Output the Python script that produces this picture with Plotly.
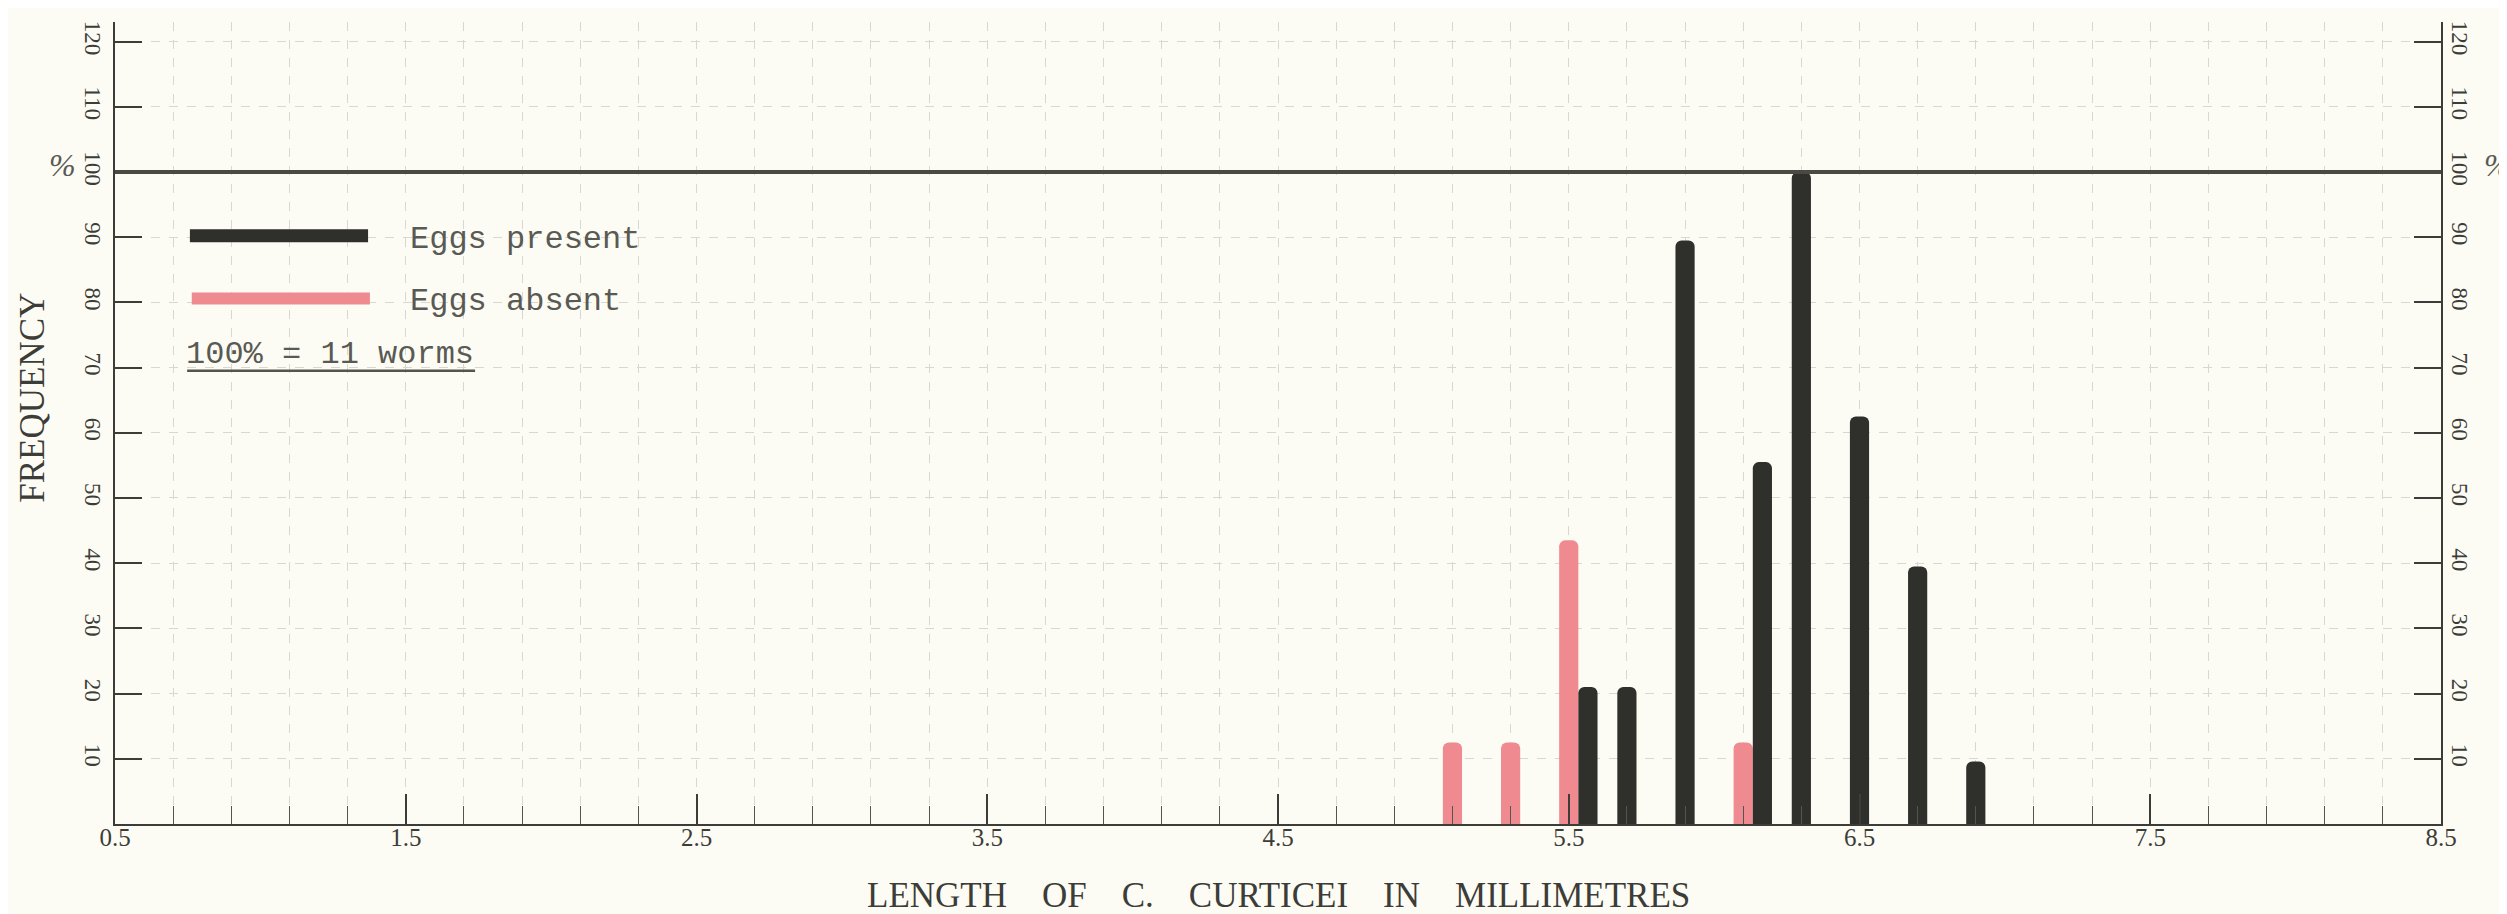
import plotly.graph_objects as go

# length of C. curticei (mm) and frequency (%)
absent_len = [5.1, 5.3, 5.5, 6.1]
absent_pct = [12.5, 12.5, 43.5, 12.5]

present_len = [5.5, 5.7, 5.9, 6.1, 6.3, 6.5, 6.7, 6.9]
present_pct = [21, 21, 89.5, 55.5, 100, 62.5, 39.5, 9.6]

x_ticks = [0.5, 1.5, 2.5, 3.5, 4.5, 5.5, 6.5, 7.5, 8.5]
x_labels = ["0.5", "1.5", "2.5", "3.5", "4.5", "5.5", "6.5", "7.5", "8.5"]
y_ticks = [10, 20, 30, 40, 50, 60, 70, 80, 90, 100, 110, 120]
y_labels = [str(v) for v in y_ticks]

PAPER = "#fdfcf4"
INK = "#3c3c38"
GRID = "#d9d8d0"
BLACK = "#2f302c"
PINK = "#ef8a91"
W = 0.066  # bar width in mm

# black bar sits right of the pink one when both share a length class
present_offset = [W / 2 if x in absent_len else -W / 2 for x in present_len]

fig = go.Figure()

fig.add_trace(
    go.Bar(
        x=absent_len,
        y=absent_pct,
        width=W,
        offset=-W / 2,
        name="Eggs absent",
        marker=dict(color=PINK, cornerradius="35%", line=dict(width=0)),
        yaxis="y",
    )
)

fig.add_trace(
    go.Bar(
        x=present_len,
        y=present_pct,
        width=W,
        offset=present_offset,
        name="Eggs present",
        marker=dict(color=BLACK, cornerradius="35%", line=dict(width=0)),
        yaxis="y2",
    )
)

serif = "Liberation Serif"
mono = "Liberation Mono"

y_common = dict(
    range=[0, 123],
    tickmode="array",
    tickvals=y_ticks,
    ticktext=y_labels,
    ticks="inside",
    ticklen=27,
    tickwidth=1.5,
    tickcolor=INK,
    tickangle=90,
    tickfont=dict(family=serif, size=23, color=INK),
    showline=True,
    linecolor=INK,
    linewidth=2,
    zeroline=False,
    fixedrange=True,
)

fig.update_layout(
    width=2507,
    height=914,
    margin=dict(l=107, r=74, t=14, b=98),
    paper_bgcolor=PAPER,
    plot_bgcolor=PAPER,
    barmode="overlay",
    showlegend=False,
    xaxis=dict(
        range=[0.5, 8.5],
        tickmode="array",
        tickvals=x_ticks,
        ticktext=x_labels,
        ticks="inside",
        ticklen=30,
        tickwidth=1.5,
        tickcolor=INK,
        tickfont=dict(family=serif, size=25, color=INK),
        ticklabelstandoff=-10,
        showline=True,
        linecolor=INK,
        linewidth=2,
        showgrid=True,
        gridcolor=GRID,
        gridwidth=1,
        griddash="dash",
        zeroline=False,
        minor=dict(
            tickmode="linear",
            tick0=0.5,
            dtick=0.2,
            ticks="inside",
            ticklen=18,
            tickwidth=1.2,
            tickcolor="#555550",
            showgrid=True,
            gridcolor=GRID,
            gridwidth=1,
            griddash="dash",
        ),
    ),
    yaxis=dict(**y_common, side="left", showgrid=True, gridcolor=GRID,
               gridwidth=1, griddash="dash"),
    yaxis2=dict(**y_common, side="right", overlaying="y", showgrid=False),
)

# the 100% rule
fig.add_shape(
    type="line", xref="x", yref="y", x0=0.5, x1=8.5, y0=100, y1=100,
    line=dict(color="#4a4a42", width=4), layer="above",
)

# hand-drawn legend
fig.add_shape(
    type="line", xref="paper", yref="y", x0=0.0322, x1=0.1088, y0=90.2, y1=90.2,
    line=dict(color=BLACK, width=13),
)
fig.add_shape(
    type="line", xref="paper", yref="y", x0=0.0330, x1=0.1096, y0=80.6, y1=80.6,
    line=dict(color=PINK, width=12),
)
fig.add_shape(
    type="line", xref="paper", yref="y", x0=0.031, x1=0.1548, y0=69.5, y1=69.5,
    line=dict(color="#55554f", width=2.5),
)

legend_font = dict(family=mono, size=32, color="#5a5a55")
fig.add_annotation(text="Eggs present", xref="paper", yref="y", x=0.126, y=89.6,
                   xanchor="left", yanchor="middle", showarrow=False, font=legend_font)
fig.add_annotation(text="Eggs absent", xref="paper", yref="y", x=0.126, y=80.2,
                   xanchor="left", yanchor="middle", showarrow=False, font=legend_font)
fig.add_annotation(text="100% = 11 worms", xref="paper", yref="y", x=0.0297, y=72,
                   xanchor="left", yanchor="middle", showarrow=False, font=legend_font)

# axis titles and % marks
sp = "&nbsp;" * 4
fig.add_annotation(text=sp.join(["LENGTH", "OF", "C.", "CURTICEI", "IN", "MILLIMETRES"]),
                   xref="paper", yref="paper", x=0.5004, y=-0.089,
                   xanchor="center", yanchor="middle", showarrow=False,
                   font=dict(family=serif, size=35, color=INK))
fig.add_annotation(text="FREQUENCY", xref="paper", yref="paper", x=-0.0355, y=0.532,
                   xanchor="center", yanchor="middle", textangle=-90, showarrow=False,
                   font=dict(family=serif, size=35, color=INK))
fig.add_annotation(text="<i>%</i>", xref="paper", yref="y", x=-0.0225, y=101,
                   xanchor="center", yanchor="middle", showarrow=False,
                   font=dict(family=serif, size=32, color="#5a5a55"))
fig.add_annotation(text="<i>%</i>", xref="paper", yref="y", x=1.0245, y=101,
                   xanchor="center", yanchor="middle", showarrow=False,
                   font=dict(family=serif, size=32, color="#5a5a55"))

fig.write_html("out.html")
